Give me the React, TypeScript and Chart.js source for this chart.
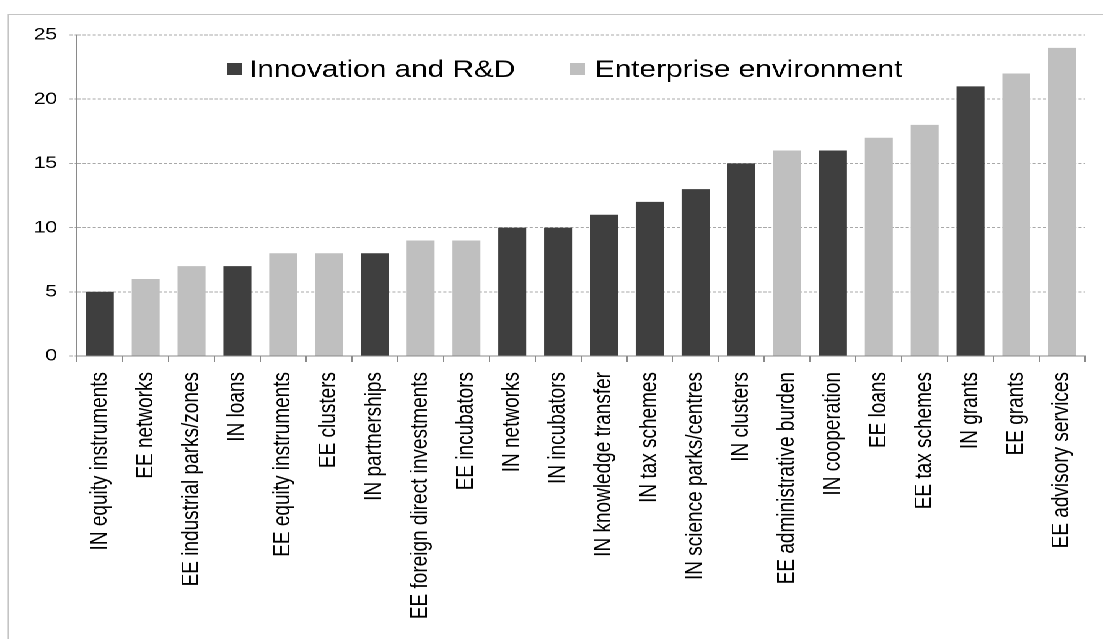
import React, { useEffect, useRef } from "react";
import { Chart, registerables } from "chart.js";

Chart.register(...registerables);

const categories = [
  "IN equity instruments",
  "EE networks",
  "EE industrial parks/zones",
  "IN loans",
  "EE equity instruments",
  "EE clusters",
  "IN partnerships",
  "EE foreign direct investments",
  "EE incubators",
  "IN networks",
  "IN incubators",
  "IN knowledge transfer",
  "IN tax schemes",
  "IN science parks/centres",
  "IN clusters",
  "EE administrative burden",
  "IN cooperation",
  "EE loans",
  "EE tax schemes",
  "IN grants",
  "EE grants",
  "EE advisory services",
];

const innovationValues = [5, null, null, 7, null, null, 8, null, null, 10, 10, 11, 12, 13, 15, null, 16, null, null, 21, null, null];
const enterpriseValues = [null, 6, 7, null, 8, 8, null, 9, 9, null, null, null, null, null, null, 16, null, 17, 18, null, 22, 24];

const seriesNames = ["Innovation and R&D", "Enterprise environment"];
const seriesColors = ["#3f3f3f", "#bfbfbf"];

const yMax = 25;
const yStep = 5;

const CANVAS_W = 890;
const CANVAS_H = 639;
const STRETCH = 1103 / CANVAS_W;
const FONT = '"Liberation Sans", Arial, sans-serif';

const framePlugin = {
  id: "frame",
  beforeDraw(chart: any) {
    const ctx = chart.ctx;
    ctx.save();
    ctx.strokeStyle = "#c4c4c4";
    ctx.lineWidth = 1;
    ctx.beginPath();
    ctx.moveTo(6.7, CANVAS_H);
    ctx.lineTo(6.7, 14.5);
    ctx.lineTo(CANVAS_W, 14.5);
    ctx.stroke();
    ctx.restore();
  },
};

const legendPlugin = {
  id: "insideLegend",
  afterDraw(chart: any) {
    const ctx = chart.ctx;
    const pos = [
      { box: 183, text: 201 },
      { box: 460, text: 480 },
    ];
    ctx.save();
    ctx.font = `24px ${FONT}`;
    ctx.textBaseline = "alphabetic";
    ctx.textAlign = "left";
    chart.data.datasets.forEach((ds: any, i: number) => {
      ctx.fillStyle = ds.backgroundColor;
      ctx.fillRect(pos[i].box, 63, 12, 12);
      ctx.fillStyle = "#000";
      ctx.fillText(ds.label, pos[i].text, 77);
    });
    ctx.restore();
  },
};

export default function App() {
  const ref = useRef<HTMLCanvasElement | null>(null);

  useEffect(() => {
    if (!ref.current) return;
    const chart = new Chart(ref.current, {
      type: "bar",
      data: {
        labels: categories,
        datasets: [
          {
            label: seriesNames[0],
            data: innovationValues,
            backgroundColor: seriesColors[0],
            barPercentage: 0.61,
            categoryPercentage: 1,
          },
          {
            label: seriesNames[1],
            data: enterpriseValues,
            backgroundColor: seriesColors[1],
            barPercentage: 0.61,
            categoryPercentage: 1,
          },
        ],
      },
      plugins: [framePlugin, legendPlugin],
      options: {
        responsive: false,
        animation: false,
        devicePixelRatio: 2,
        layout: { padding: { left: 0, right: 8.7, top: 35, bottom: 0 } },
        plugins: {
          legend: { display: false },
          tooltip: { enabled: false },
        },
        scales: {
          x: {
            stacked: true,
            offset: true,
            grid: {
              offset: true,
              drawOnChartArea: false,
              drawTicks: true,
              tickLength: 6,
              tickColor: "#8a8a8a",
            },
            border: { display: true, color: "#8a8a8a", width: 1 },
            ticks: {
              autoSkip: false,
              minRotation: 90,
              maxRotation: 90,
              padding: 10,
              color: "#000",
              font: { family: FONT, size: 19 },
            },
            afterFit(scale: any) {
              scale.height = CANVAS_H - 356;
            },
          },
          y: {
            stacked: true,
            min: 0,
            max: yMax,
            ticks: {
              stepSize: yStep,
              padding: 10,
              color: "#000",
              font: { family: FONT, size: 17 },
            },
            grid: {
              color: "#a8a8a8",
              lineWidth: 1,
              drawTicks: true,
              tickLength: 6,
              tickColor: "#a8a8a8",
              tickBorderDash: [2.5, 1.6],
            },
            border: { display: true, color: "#8a8a8a", width: 1, dash: [2.5, 1.6] },
            afterFit(scale: any) {
              scale.width = 62.1;
            },
          },
        },
      },
    });
    return () => chart.destroy();
  }, []);

  return (
    <div
      style={{
        position: "fixed",
        left: 0,
        top: 0,
        width: CANVAS_W,
        height: CANVAS_H,
        transform: `scaleX(${STRETCH})`,
        transformOrigin: "0 0",
        background: "#fff",
      }}
    >
      <canvas ref={ref} width={CANVAS_W} height={CANVAS_H} style={{ width: CANVAS_W, height: CANVAS_H }} />
    </div>
  );
}
